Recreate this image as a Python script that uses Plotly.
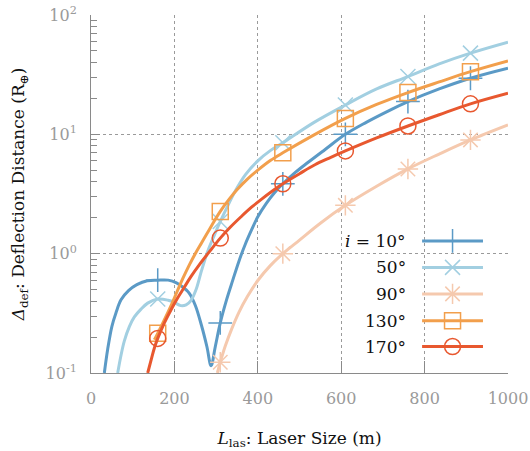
import plotly.graph_objects as go

# ---------------- data ----------------
MARKER_X = [160, 310, 460, 610, 760, 910]

x_10 = [32, 40, 50, 60, 72, 90, 110, 135, 160, 185, 205, 220, 235, 250, 265, 278, 288, 298, 310, 325, 340, 355, 370, 385, 400, 420, 440, 460, 490, 520, 560, 610, 660, 710, 760, 835, 910, 1000]
y_10 = [0.1, 0.158, 0.245, 0.32, 0.41, 0.49, 0.55, 0.594, 0.60, 0.60, 0.57, 0.525, 0.47, 0.37, 0.25, 0.166, 0.115, 0.166, 0.263, 0.41, 0.60, 0.87, 1.2, 1.58, 2.04, 2.63, 3.24, 3.85, 4.8, 5.8, 7.4, 10.0, 12.6, 15.5, 18.8, 24.0, 29.5, 35.8]

x_50 = [64, 72, 80, 92, 104, 120, 136, 160, 185, 200, 215, 228, 240, 252, 265, 280, 295, 310, 325, 345, 370, 400, 430, 460, 535, 610, 685, 760, 835, 910, 1000]
y_50 = [0.1, 0.141, 0.186, 0.245, 0.295, 0.343, 0.385, 0.417, 0.407, 0.39, 0.367, 0.372, 0.407, 0.50, 0.72, 1.05, 1.41, 1.86, 2.4, 3.3, 4.57, 6.0, 7.3, 8.5, 12.6, 17.6, 24.0, 30.5, 38.9, 47.9, 59.2]

x_90 = [303, 310, 322, 337, 355, 375, 400, 430, 460, 500, 550, 610, 685, 760, 835, 910, 1000]
y_90 = [0.1, 0.123, 0.168, 0.232, 0.324, 0.437, 0.596, 0.794, 1.0, 1.30, 1.80, 2.54, 3.67, 5.13, 6.84, 8.98, 12.0]

x_130 = [152, 160, 175, 190, 205, 220, 235, 250, 265, 280, 295, 310, 330, 350, 375, 400, 430, 460, 535, 610, 685, 760, 835, 910, 1000]
y_130 = [0.19, 0.215, 0.275, 0.355, 0.468, 0.617, 0.794, 1.0, 1.23, 1.51, 1.86, 2.26, 2.82, 3.43, 4.22, 5.01, 6.03, 7.0, 9.9, 13.6, 17.8, 22.4, 27.5, 33.5, 41.2]

x_170 = [136, 145, 152, 160, 176, 192, 208, 224, 240, 260, 285, 310, 335, 360, 385, 410, 435, 460, 500, 537, 570, 610, 685, 760, 835, 910, 1000]
y_170 = [0.1, 0.132, 0.162, 0.195, 0.263, 0.339, 0.427, 0.525, 0.645, 0.81, 1.05, 1.35, 1.68, 2.04, 2.45, 2.88, 3.35, 3.85, 4.68, 5.56, 6.3, 7.26, 9.33, 11.75, 14.6, 18.0, 22.1]

labels = ["<i>i</i> = 10°", "50°", "90°", "130°", "170°"]
colors = ["#5b9ac6", "#a2cfe1", "#f5c9ae", "#f29f4c", "#e8582f"]
symbols = ["cross-thin", "x-thin", "asterisk-open", "square-open", "circle-open"]
msizes = [17, 15, 17, 16, 16]

xs = [x_10, x_50, x_90, x_130, x_170]
ys = [y_10, y_50, y_90, y_130, y_170]

y_tickvals = [0.1, 1, 10, 100]
y_ticktext = ["10<sup>-1</sup>", "10<sup>0</sup>", "10<sup>1</sup>", "10<sup>2</sup>"]
y_minor = [m * d for d in (0.1, 1, 10) for m in range(2, 10)]

# legend layout (paper coordinates)
LEG_ROWS = [0.369, 0.295, 0.221, 0.146, 0.074]
LEG_X0, LEG_X1, LEG_XM, LEG_TX = 0.794, 0.940, 0.867, 0.760

FONT = "DejaVu Serif"
GRAY = "#9a9a9a"
AXC = "#8a8a8a"

fig = go.Figure()

for xv, yv, c, s, ms in zip(xs, ys, colors, symbols, msizes):
    fig.add_trace(go.Scatter(x=xv, y=yv, mode="lines",
                             line=dict(color=c, width=3, shape="spline", smoothing=1.0),
                             showlegend=False, hoverinfo="skip"))
    mx = [a for a in xv if a in MARKER_X]
    my = [b for a, b in zip(xv, yv) if a in MARKER_X]
    fig.add_trace(go.Scatter(x=mx, y=my, mode="markers",
                             marker=dict(symbol=s, size=ms, color=c,
                                         line=dict(color=c, width=1.5)),
                             showlegend=False))

# custom legend drawn on hidden overlay axes
for ly, c, s, ms, lab in zip(LEG_ROWS, colors, symbols, msizes, labels):
    fig.add_trace(go.Scatter(x=[LEG_X0, LEG_X1], y=[ly, ly], mode="lines",
                             line=dict(color=c, width=3), xaxis="x2", yaxis="y2",
                             showlegend=False, hoverinfo="skip"))
    fig.add_trace(go.Scatter(x=[LEG_XM], y=[ly], mode="markers",
                             marker=dict(symbol=s, size=ms, color=c,
                                         line=dict(color=c, width=1.5)),
                             xaxis="x2", yaxis="y2", showlegend=False, hoverinfo="skip"))
    fig.add_annotation(x=LEG_TX, y=ly, xref="paper", yref="paper", text=lab,
                       showarrow=False, xanchor="right", yanchor="middle",
                       font=dict(family=FONT, size=17, color="#111111"))

fig.add_shape(type="rect", xref="paper", yref="paper", x0=0.59, x1=0.971, y0=0.042, y1=0.405,
              fillcolor="white", line=dict(width=0), layer="between")

fig.update_layout(
    width=530, height=451,
    margin=dict(l=91, r=22, t=15, b=78),
    paper_bgcolor="white", plot_bgcolor="white",
    font=dict(family=FONT, size=16, color="#111111"),
    xaxis=dict(range=[0, 1000], dtick=200, tick0=0, showline=True, linecolor=AXC, linewidth=1,
               ticks="inside", ticklen=12, tickcolor=AXC, showgrid=True, gridcolor="#9a9a9a",
               griddash="dot", gridwidth=1, zeroline=False, automargin=False,
               tickfont=dict(family=FONT, size=16, color=GRAY),
               ticklabelstandoff=11, ticklabeloverflow="allow",
               title=dict(text="<i>L</i><sub>las</sub>: Laser Size (m)", standoff=24,
                          font=dict(family=FONT, size=17, color="#111111"))),
    yaxis=dict(type="log", range=[-1, 2], tickvals=y_tickvals, ticktext=y_ticktext,
               showline=True, linecolor=AXC, linewidth=1, ticks="inside", ticklen=9, tickcolor=AXC,
               showgrid=True, gridcolor="#9a9a9a", griddash="dot", gridwidth=1, zeroline=False,
               automargin=False, ticklabeloverflow="allow",
               tickfont=dict(family=FONT, size=16, color=GRAY), ticklabelstandoff=10,
               minor=dict(tickvals=y_minor, ticks="inside", ticklen=6, tickcolor=AXC, showgrid=False),
               title=dict(text="<i>Δ</i><sub>def</sub>: Deflection Distance (R<sub>⊕</sub>)", standoff=16,
                          font=dict(family=FONT, size=17, color="#111111"))),
    xaxis2=dict(overlaying="x", range=[0, 1], visible=False, anchor="y2"),
    yaxis2=dict(overlaying="y", range=[0, 1], visible=False, anchor="x2"),
)

fig.write_html("out.html", config={"displayModeBar": False},
               post_script="document.body.style.margin='0';")
